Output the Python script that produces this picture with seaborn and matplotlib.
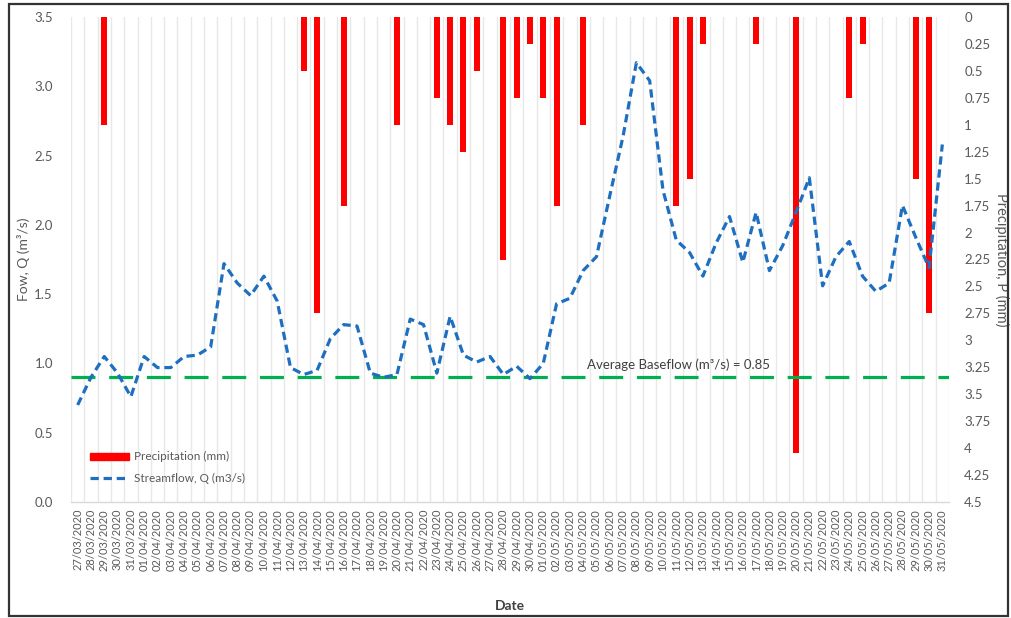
import matplotlib
matplotlib.use("Agg")
import matplotlib.pyplot as plt
import matplotlib.patches as mpatches
import matplotlib.lines as mlines
import numpy as np
import pandas as pd
import seaborn as sns

# ---------------- data ----------------
dates = pd.date_range("2020-03-27", "2020-05-31", freq="D").strftime("%d/%m/%Y").tolist()

streamflow = [0.70, 0.90, 1.05, 0.93, 0.76, 1.05, 0.97, 0.97, 1.05, 1.06,
              1.12, 1.72, 1.58, 1.49, 1.63, 1.45, 0.97, 0.92, 0.95, 1.18,
              1.28, 1.27, 0.93, 0.90, 0.92, 1.32, 1.28, 0.93, 1.34, 1.06,
              1.01, 1.05, 0.92, 0.98, 0.89, 1.00, 1.43, 1.47, 1.67, 1.77,
              2.21, 2.64, 3.17, 3.04, 2.25, 1.89, 1.80, 1.63, 1.87, 2.06,
              1.73, 2.09, 1.67, 1.85, 2.09, 2.34, 1.56, 1.77, 1.88, 1.63,
              1.52, 1.58, 2.14, 1.91, 1.69, 2.58]

precipitation = [0, 0, 1.00, 0, 0, 0, 0, 0, 0, 0,
                 0, 0, 0, 0, 0, 0, 0, 0.50, 2.75, 0,
                 1.75, 0, 0, 0, 1.00, 0, 0, 0.75, 1.00, 1.25,
                 0.50, 0, 2.25, 0.75, 0.25, 0.75, 1.75, 0, 1.00, 0,
                 0, 0, 0, 0, 0, 1.75, 1.50, 0.25, 0, 0,
                 0, 0.25, 0, 0, 4.05, 0, 0, 0, 0.75, 0.25,
                 0, 0, 0, 1.50, 2.75, 0]

baseflow_level = 0.90
baseflow_label = "Average Baseflow (m³/s) = 0.85"

flow_ticks = [0.0, 0.5, 1.0, 1.5, 2.0, 2.5, 3.0, 3.5]
precip_ticks = [0, 0.25, 0.5, 0.75, 1, 1.25, 1.5, 1.75, 2, 2.25, 2.5, 2.75,
                3, 3.25, 3.5, 3.75, 4, 4.25, 4.5]
precip_tick_labels = ["0", "0.25", "0.5", "0.75", "1", "1.25", "1.5", "1.75", "2",
                      "2.25", "2.5", "2.75", "3", "3.25", "3.5", "3.75", "4", "4.25", "4.5"]

df = pd.DataFrame({"date": dates, "idx": np.arange(len(dates)),
                   "flow": streamflow, "precip": precipitation})

# ---------------- style ----------------
sns.set_theme(style="white")
plt.rcParams["font.family"] = ["Lato", "DejaVu Sans"]
grey = "#595959"

W, H = 1012, 618
fig = plt.figure(figsize=(W / 100, H / 100), dpi=100)
L, R, T, B = 71, 949, 17, 502
ax = fig.add_axes([L / W, 1 - B / H, (R - L) / W, (B - T) / H])
ax2 = ax.twinx()

# precipitation bars on secondary (inverted) axis, behind
sns.barplot(data=df, x="date", y="precip", ax=ax2, color="#FF0000",
            width=0.45, saturation=1, linewidth=0, order=dates)
ax2.set_ylim(4.5, 0)

# streamflow line on primary
sns.lineplot(data=df, x="idx", y="flow", ax=ax, color="#1F6FC0",
             linewidth=2.3, linestyle=(0, (2.6, 1.5)), label="_nolegend_")
ax.axhline(baseflow_level, color="#00B050", linewidth=2.3,
           linestyle=(0, (7.5, 4.3)), zorder=1)
ax.text(38.3, 0.99, baseflow_label, ha="left", va="center",
        fontsize=9.5, color="#404040")

ax.set_zorder(ax2.get_zorder() + 1)
ax.patch.set_visible(False)

n = len(dates)
ax.set_xlim(-0.5, n - 0.5)
ax.set_ylim(0, 3.5)
ax.set_yticks(flow_ticks)
ax.set_yticklabels([f"{v:.1f}" for v in flow_ticks])
ax.set_xticks(np.arange(n))
ax.set_xticklabels(dates, rotation=90)
ax.set_xticks(np.arange(n + 1) - 0.5, minor=True)
ax.xaxis.grid(True, which="minor", color="#E8E8E8", linewidth=1.0)
ax.xaxis.grid(False, which="major")
ax.yaxis.grid(False)
ax.tick_params(axis="x", which="both", length=0, pad=5, labelsize=8, labelcolor=grey)
ax.tick_params(axis="y", length=0, pad=13, labelsize=9.5, labelcolor=grey)

ax2.set_xlim(-0.5, n - 0.5)
ax2.set_yticks(precip_ticks)
ax2.set_yticklabels(precip_tick_labels)
ax2.tick_params(axis="y", length=0, pad=11, labelsize=9.5, labelcolor=grey)
ax2.grid(False)
ax2.set_xlabel("")

for a in (ax, ax2):
    for s in a.spines.values():
        s.set_visible(False)
ax.spines["bottom"].set_visible(True)
ax.spines["bottom"].set_color("#D9D9D9")
ax.spines["bottom"].set_linewidth(1)

ax.set_xlabel("Date", fontsize=10, color="#404040", fontweight="bold", labelpad=21)
ax.set_ylabel("Fow, Q (m³/s)", fontsize=10, color=grey, labelpad=3)
ax2.set_ylabel("Precipitation, P (mm)", fontsize=10.5, color=grey,
               rotation=270, labelpad=13)

# legend
h1 = mpatches.Patch(color="#FF0000", label="Precipitation (mm)")
h2 = mlines.Line2D([], [], color="#1F6FC0", linewidth=2.3,
                   linestyle=(0, (2.6, 1.5)), label="Streamflow, Q (m3/s)")
leg = ax.legend(handles=[h1, h2], loc="lower left", bbox_to_anchor=(0.01, 0.015),
                frameon=False, fontsize=8.5, handlelength=3.3, handleheight=0.6,
                labelspacing=0.9, handletextpad=0.4)
for t in leg.get_texts():
    t.set_color(grey)

# outer frame
fig.patches.append(mpatches.Rectangle((9 / W, 1 - 616 / H), (1008 - 9) / W, (616 - 4) / H,
                                      transform=fig.transFigure, fill=False,
                                      edgecolor="#333333", linewidth=1.6))

fig.savefig("out.png", dpi=100)
